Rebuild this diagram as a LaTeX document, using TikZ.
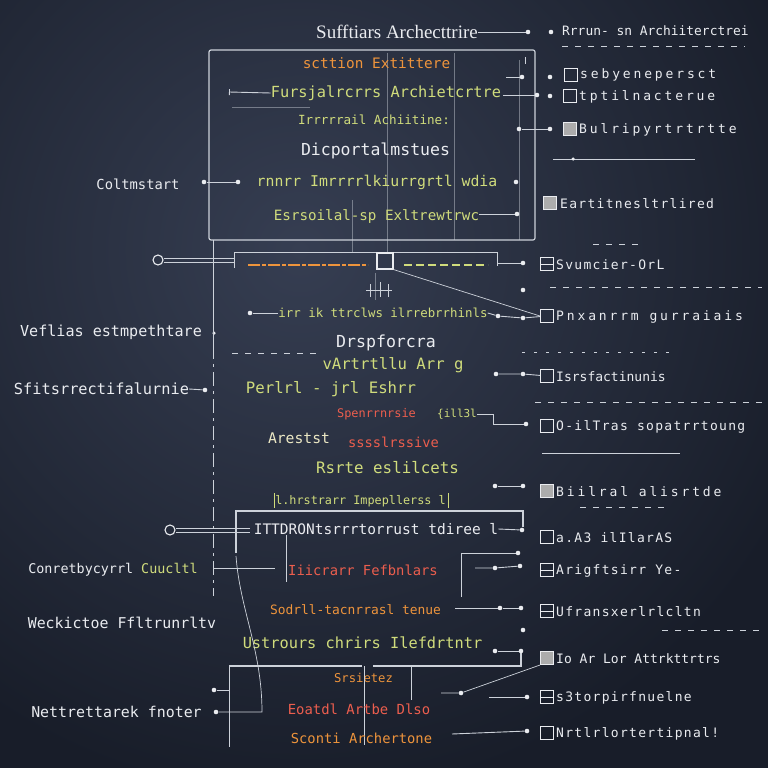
\documentclass[tikz,border=0pt]{standalone}
\usepackage{fontspec}
\setmainfont{Liberation Serif}
\newfontfamily\monof{DejaVu Sans Mono}
\newfontfamily\monols[LetterSpace=22]{DejaVu Sans Mono}
\newfontfamily\monolt[LetterSpace=10]{DejaVu Sans Mono}
\usetikzlibrary{calc,arrows.meta}
\definecolor{bgA}{RGB}{54,62,82}
\definecolor{bgB}{RGB}{24,29,41}
\definecolor{lnc}{RGB}{205,210,218}
\definecolor{ygr}{RGB}{208,220,124}
\definecolor{org}{RGB}{238,148,60}
\definecolor{redc}{RGB}{236,94,78}
\definecolor{wht}{RGB}{234,236,240}
\definecolor{cream}{RGB}{236,232,196}
\tikzset{
  mf/.style={font=\monof\fontsize{#1}{#1}\selectfont},
  txt/.style={inner sep=0pt, text=wht},
  ytx/.style={inner sep=0pt, text=ygr},
  otx/.style={inner sep=0pt, text=org},
  rtx/.style={inner sep=0pt, text=redc},
  rl/.style={inner sep=0pt, text=wht, anchor=west, font=\monols\fontsize{13}{13}\selectfont},
  rlt/.style={inner sep=0pt, text=wht, anchor=west, font=\monolt\fontsize{13}{13}\selectfont},
  rlp/.style={inner sep=0pt, text=wht, anchor=west, font=\monof\fontsize{13}{13}\selectfont},
  titlef/.style={inner sep=0pt, text=wht, font=\fontsize{19}{19}\selectfont},
  ln/.style={draw=lnc, line width=0.9pt},
  thinl/.style={draw=lnc, line width=0.5pt, opacity=0.45},
  dsh/.style={draw=lnc, line width=1pt, dash pattern=on 6pt off 7pt},
  bullet/.style={circle, fill=wht, inner sep=0pt, minimum size=4.6pt},
  chk/.style={draw=wht, line width=1.1pt, minimum size=13pt, inner sep=0pt},
  chkf/.style={chk, fill=gray!65},
  chkh/.style={chk, path picture={\draw[wht, line width=1pt] (path picture bounding box.west) -- (path picture bounding box.east);}},
  frame/.style={draw=lnc, line width=1.2pt, rounded corners=2pt, inner sep=0pt},
}
\begin{document}
\begin{tikzpicture}[x=1pt,y=-1pt]
\useasboundingbox (0,0) rectangle (768,768);
\clip (0,0) rectangle (768,768);
\fill[bgB] (0,0) rectangle (768,768);
\shade[inner color=bgA, outer color=bgB] (-250,-300) rectangle (850,800);

% ---------- title row ----------
\node[titlef] (title) at (397,32) {Sufftiars Archecttrire};
\node[bullet] (d0a) at (528,32) {};
\draw[ln] (title.east) -- (d0a);
\node[bullet] (d0b) at (551,32) {};
\node[txt, mf=12.9, anchor=west] (hdr) at (562,31) {Rrrun- sn Archiiterctrei};
\coordinate (s0a) at (562,47); \coordinate (s0b) at (745,47);
\draw[dsh] (s0a) -- (s0b);

% ---------- box 1 ----------
\node[frame, minimum width=326pt, minimum height=190pt] (box1) at (372,145) {};
\draw[thinl] (387,53) -- (387,240);
\draw[thinl] (454,53) -- (454,240);
\draw[thinl] (352,200) -- (352,252);
\draw[thinl] (519,60) -- (519,240);
\node[otx, mf=14.4] (b1t1) at (376.5,63) {scttion Extittere};
\node[ytx, mf=15.3] (b1t2) at (386,93) {Fursjalrcrrs Archietcrtre};
\coordinate (arr1) at (229,92);
\draw[ln, -{Bar[width=6pt]}] (b1t2.west) -- (arr1);
\draw[thinl] (232,107) -- (310,107);
\node[ytx, mf=12.6] (b1t3) at (374,120) {Irrrrrail Achiitine:};
\node[txt, mf=16.5] (b1t4) at (375.5,151) {Dicportalmstues};
\node[ytx, mf=14.8] (b1t5) at (377,182) {rnnrr Imrrrrlkiurrgrtl wdia};
\node[bullet] (b1d1) at (238,182) {};
\node[bullet] (b1d2) at (516,182) {};
\node[bullet] (b1d0) at (204,182) {};
\draw[ln] (b1d0) -- (b1d1);
\node[txt, mf=13.8] (lab1) at (138,184) {Coltmstart};
\node[ytx, mf=14.2] (b1t6) at (376.5,217) {Esrsoilal-sp Exltrewtrwc};

% ---------- right list, upper ----------
\node[bullet] (r1a) at (522,77) {};
\coordinate (r1s) at (506,77);
\draw[ln] (r1s) -- (r1a);
\draw[ln] (525,57) -- (525,64);
\node[bullet] (r1b) at (550,77) {};
\node[chk] (c1) at (571,75) {};
\node[rl] (t1) at (580,75) {sebyenepersct};
\node[bullet] (r2a) at (537,95) {};
\coordinate (r2s) at (503,95);
\draw[ln] (r2s) -- (r2a);
\node[bullet] (r2b) at (550,96) {};
\node[chk] (c2) at (570,96) {};
\node[rl] (t2) at (579,97) {tptilnacterue};
\node[bullet] (r3a) at (519,129) {};
\node[bullet] (r3b) at (550,129) {};
\draw[ln] (r3a) -- (r3b);
\node[chkf] (c3) at (570,129) {};
\node[rl] (t3) at (579,130) {Bulripyrtrtrtte};
\coordinate (h4a) at (553,159); \coordinate (h4b) at (695,159);
\draw[ln] (h4a) -- (h4b);
\node[bullet, minimum size=3.5pt] (h4d) at (573,159) {};
\node[bullet] (r5a) at (517,214) {};
\coordinate (r5s) at (479,214);
\draw[ln] (r5s) -- (r5a);
\node[chkf] (c5) at (550,203) {};
\node[rlt] (t5) at (560,204) {Eartitnesltrlired};

% ---------- box 2 bar ----------
\node[draw=wht, circle, line width=1.1pt, minimum size=10pt, inner sep=0pt] (o1) at (158,260) {};
\coordinate (b2l) at (234,260);
\draw[ln] ([yshift=-2pt]o1.east) -- ([yshift=-2pt]b2l);
\draw[ln] ([yshift=2pt]o1.east) -- ([yshift=2pt]b2l);
\draw[ln] (234,268) -- (234,252) -- (497,252) -- (497,266);
\draw[thinl] (387,240) -- (387,252);
\node[draw=wht, line width=1.1pt, minimum size=16pt, inner sep=0pt] (sq2) at (385,261) {};
\draw[org, line width=1.6pt, dash pattern=on 12pt off 2pt on 4pt off 2pt] (248,265) -- (368,265);
\draw[ygr, line width=1.4pt, dash pattern=on 8pt off 4pt] (404,265) -- (488,265);
\node[bullet] (r6a) at (523,263) {};
\coordinate (r6s) at (497,263);
\draw[ln] (r6s) -- (r6a);
\node[chkh] (c6) at (547,264) {};
\node[rlt] (t6) at (556,265) {Svumcier-OrL};
\coordinate (sa) at (593,244); \coordinate (sb) at (640,244);
\draw[dsh] (sa) -- (sb);
% small tick mark
\draw[ln] (366,290) -- (392,290);
\draw[ln] (370,284) -- (370,297);
\draw[ln] (380,282) -- (380,297);
\draw[ln] (388,284) -- (388,297);
\draw[thinl] (375,273) -- (375,300);

% ---------- middle texts ----------
\node[ytx, mf=12.4] (m1) at (383,313) {irr ik ttrclws ilrrebrrhinls};
\node[bullet] (m1d) at (250,313) {};
\draw[ln] (m1d) -- (m1.west);
\node[bullet] (r7a) at (498,316) {};
\node[bullet] (r7b) at (523,318) {};
\node[chk] (c7) at (547,316) {};
\draw[ln] (m1.east) -- (r7a) -- (r7b) -- (c7);
\draw[ln, line width=0.7pt] (sq2.south east) -- (c7.west);
\node[rl] (t7) at (556,317) {Pnxanrrm gurraiais};
\coordinate (s7a) at (550,287); \coordinate (s7b) at (762,287);
\draw[dsh] (s7a) -- (s7b);
\node[bullet] (s7d) at (523,290) {};

\node[txt, mf=15.1] (lab2) at (111,332) {Veflias estmpethtare};
\node[bullet, minimum size=3.5pt] (lab2d) at (214,333) {};
\node[txt, mf=16.6] (m2) at (386,343) {Drspforcra};
\coordinate (s8a) at (232,353); \coordinate (s8b) at (318,353);
\draw[dsh] (s8a) -- (s8b);
\coordinate (s9a) at (522,352); \coordinate (s9b) at (675,352);
\draw[dsh, dash pattern=on 3pt off 9pt] (s9a) -- (s9b);
\node[ytx, mf=15.6] (m3) at (393,365) {vArtrtllu Arr g};
\node[bullet] (r8a) at (496,374) {};
\node[bullet] (r8b) at (523,374) {};
\node[chk] (c8) at (547,376) {};
\draw[ln] (r8a) -- (r8b) -- (c8);
\node[rlp] (t8) at (556,377) {Isrsfactinunis};

\node[txt, mf=15.3] (lab3) at (101.5,389) {Sfitsrrectifalurnie};
\node[bullet] (lab3d) at (205,390) {};
\draw[ln] (lab3.east) -- (lab3d);
\node[ytx, mf=15.7] (m4) at (331,389) {Perlrl - jrl Eshrr};
\coordinate (s10a) at (535,402); \coordinate (s10b) at (762,402);
\draw[dsh] (s10a) -- (s10b);
\node[rtx, mf=11.9] (m5) at (376.5,414) {Spenrrnrsie};
\node[ytx, mf=11] (m6) at (457,414) {\{ill3l};
\node[bullet] (r9a) at (526,424) {};
\node[chk] (c9) at (547,426) {};
\draw[ln] (m6.east) -- (493,414) -- (493,424) -- (r9a);
\node[rlt] (t9) at (556,427) {O-ilTras sopatrrtoung};
\node[inner sep=0pt, text=cream, mf=14.7] (m7) at (299,438) {Arestst};
\node[rtx, mf=13.7] (m8) at (393.5,442) {sssslrssive};
\coordinate (h11a) at (542,453); \coordinate (h11b) at (680,453);
\draw[ln] (h11a) -- (h11b);
\node[ytx, mf=15.8] (m9) at (387.5,468) {Rsrte eslilcets};
\node[bullet] (r10a) at (495,486) {};
\node[bullet] (r10b) at (523,486) {};
\node[chkf] (c10) at (547,491) {};
\draw[ln] (r10a) -- (r10b);
\node[rl] (t10) at (556,492) {Biilral alisrtde};
\node[ytx, mf=11.8] (m10) at (360.5,501) {l.hrstrarr Impepllerss l};
\draw[ygr, line width=0.8pt] (274,493) -- (274,508);
\draw[ygr, line width=0.8pt] (448,493) -- (448,508);
\coordinate (s12a) at (580,507); \coordinate (s12b) at (665,507);
\draw[dsh] (s12a) -- (s12b);

% main vertical spine
\draw[ln] (213,240) -- (213,345);
\draw[ln, dash pattern=on 14pt off 5pt on 3pt off 5pt] (213,345) -- (213,596);

% ---------- box 3 ----------
\draw[ln, line width=1.2pt] (236,553) -- (236,511) -- (523,511) -- (523,527);
\draw[ln, line width=1.2pt] (229,666) -- (362,666);
\draw[ln, line width=1.2pt] (373,666) -- (521,666) -- (521,651);
\node[draw=wht, circle, line width=1.1pt, minimum size=10pt, inner sep=0pt] (o2) at (170,530) {};
\coordinate (b3l) at (250,530);
\draw[ln] ([yshift=-2pt]o2.east) -- ([yshift=-2pt]b3l);
\draw[ln] ([yshift=2pt]o2.east) -- ([yshift=2pt]b3l);
\node[txt, mf=14.5] (n1) at (376,529) {ITTDRONtsrrrtorrust tdiree l};
\node[bullet] (r11a) at (522,530) {};
\draw[ln] (n1.east) -- (r11a);
\node[chk] (c11) at (547,537) {};
\node[rlt] (t11) at (556,538) {a.A3 ilIlarAS};
\draw[ln, line width=0.7pt] (286,535) -- (286,582);

\node[txt, mf=13.4] (lab4) at (113,570) {Conretbycyrrl \textcolor{ygr}{Cuucltl}};
\coordinate (lab4e) at (275,568);
\draw[ln, line width=0.7pt] (214,568) -- (lab4e);
\node[rtx, mf=13.8] (n2) at (363,570) {Iiicrarr Fefbnlars};
\node[bullet] (r12c) at (518,553) {};
\draw[ln] (461,597) -- (461,553) -- (r12c);
\node[bullet] (r12a) at (495,568) {};
\node[bullet] (r12b) at (520,566) {};
\coordinate (r12s) at (475,568);
\draw[ln] (r12s) -- (r12a) -- (r12b);
\node[chkh] (c12) at (547,570) {};
\node[rlt] (t12) at (556,571) {Arigftsirr Ye-};

\node[otx, mf=12.9] (n3) at (355.5,610) {Sodrll-tacnrrasl tenue};
\node[bullet] (r13a) at (500,608) {};
\node[bullet] (r13b) at (521,608) {};
\coordinate (r13s) at (455,608);
\draw[ln] (r13s) -- (r13a) -- (r13b);
\node[chkh] (c13) at (547,611) {};
\node[rlt] (t13) at (556,612) {Ufransxerlrlcltn};
\node[txt, mf=14.9] (lab5) at (122,623) {Weckictoe Ffltrunrltv};
\coordinate (s14a) at (662,630); \coordinate (s14b) at (762,630);
\draw[dsh] (s14a) -- (s14b);
\node[bullet] (s14d) at (523,630) {};
\node[ytx, mf=15.3] (n4) at (362.5,643) {Ustrours chrirs Ilefdrtntr};
\node[bullet] (r14a) at (495,651) {};
\node[bullet] (r14b) at (521,651) {};
\draw[ln] (r14a) -- (r14b);
\node[chkf] (c14) at (547,658) {};
\node[rlp] (t14) at (556,659) {Io Ar Lor Attrkttrtrs};

% ---------- below box 3 ----------
\node[otx, mf=12.2] (n5) at (363.5,678) {Srsietez};
\draw[ln, line width=0.7pt] (364,666) -- (364,745);
\draw[ln, line width=0.7pt] (411,666) -- (411,700);
\node[bullet] (l6d) at (214,690) {};
\draw[ln, line width=0.7pt] (l6d) -- (229,690);
\draw[ln, line width=0.7pt] (229,666) -- (229,747);
\node[txt, mf=14.9] (lab6) at (116.5,712) {Nettrettarek fnoter};
\node[bullet] (lab6d) at (216,712) {};
\coordinate (cv1) at (262,712);
\coordinate (cv2) at (236,556);
\draw[ln, line width=0.7pt] (lab6d) -- (cv1) .. controls (262,650) and (240,610) .. (cv2);
\node[rtx, mf=13.9] (n6) at (359,709) {Eoatdl Artbe Dlso};
\node[otx, mf=13.8] (n7) at (361.5,738) {Sconti Archertone};
\node[bullet] (r15a) at (461,693) {};
\coordinate (r15s) at (441,693);
\draw[ln, line width=0.7pt] (r15s) -- (r15a) -- (c14.south west);
\node[bullet] (r16a) at (527,697) {};
\coordinate (r16s) at (489,697);
\draw[ln] (r16s) -- (r16a);
\node[chkh] (c16) at (547,697) {};
\node[rlt] (t16) at (556,698) {s3torpirfnuelne};
\node[bullet] (r17a) at (527,731) {};
\coordinate (r17s) at (452,734);
\draw[ln] (r17s) -- (r17a);
\node[chk] (c17) at (547,733) {};
\node[rlt] (t17) at (556,734) {Nrtlrlortertipnal!};
\end{tikzpicture}
\end{document}
